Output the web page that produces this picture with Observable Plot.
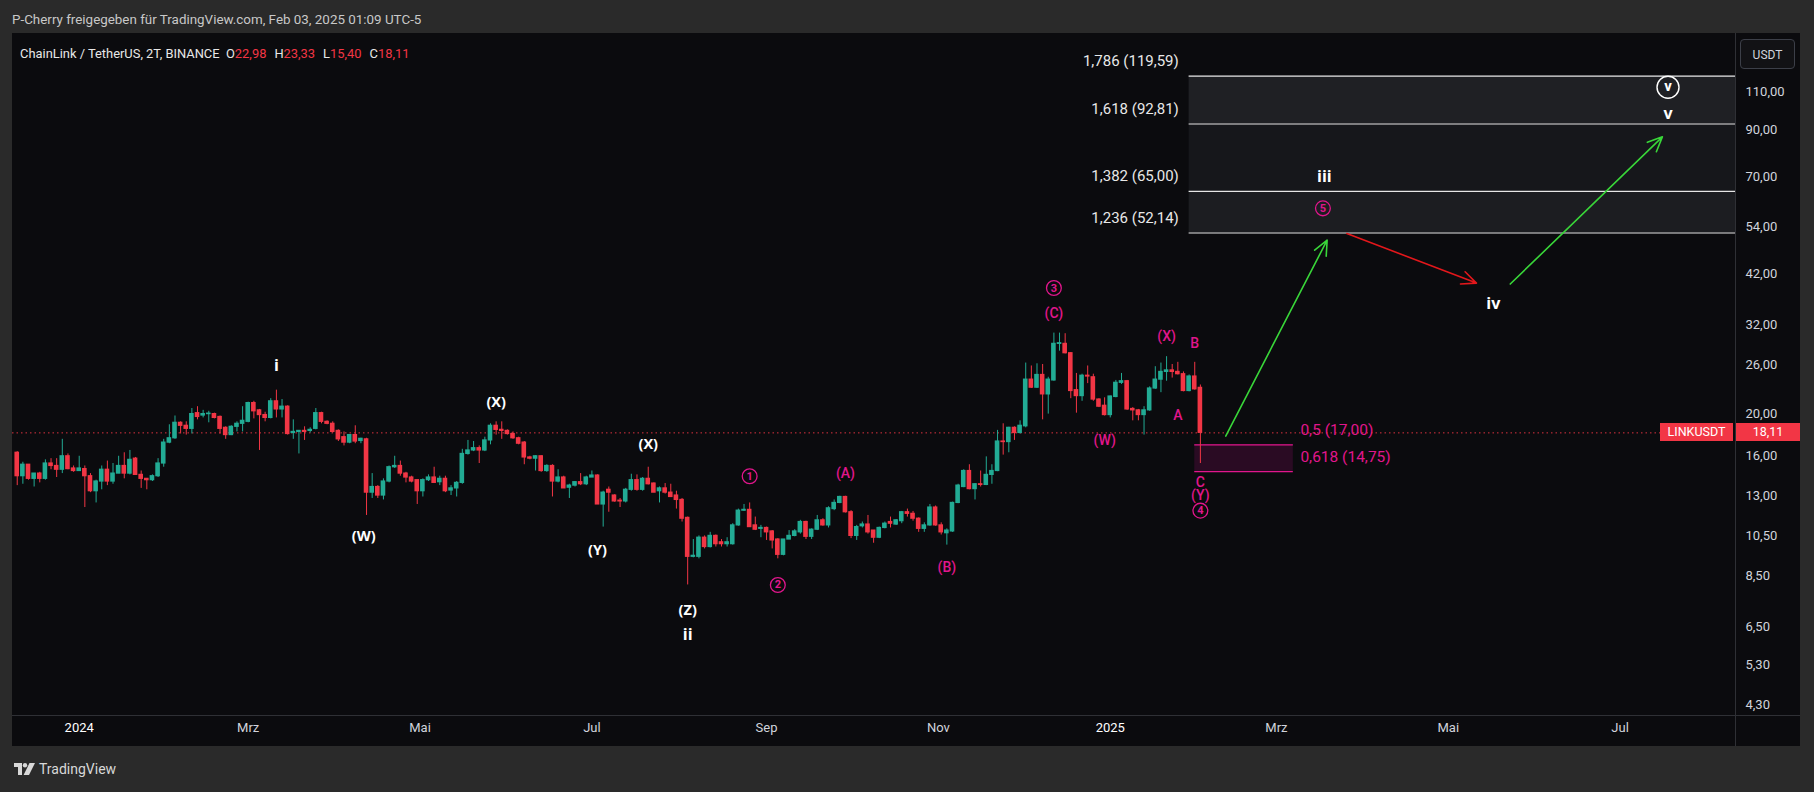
<!DOCTYPE html>
<html><head><meta charset="utf-8">
<script src="https://cdn.jsdelivr.net/npm/d3@7"></script>
<script src="https://cdn.jsdelivr.net/npm/@observablehq/plot@0.6"></script>
<style>
html,body{margin:0;padding:0;background:#2a2a2a;width:1814px;height:792px;overflow:hidden;font-family:Roboto,"Open Sans",sans-serif;}
#header{position:absolute;left:12px;top:11px;color:#c8c8c8;font-size:13.4px;line-height:18px;white-space:nowrap;}
#panel{position:absolute;left:12px;top:33px;width:1788px;height:713px;background:#0b0b0e;overflow:hidden;}
#legend{position:absolute;left:20px;top:45px;color:#e8e8e8;font-size:12.9px;line-height:17px;white-space:nowrap;}
#legend .v{color:#f23645;margin-right:8px;}
.sepV{position:absolute;left:1735px;top:33px;width:1px;height:713px;background:#2f3035;}
.sepH{position:absolute;left:12px;top:715px;width:1788px;height:1px;background:#2f3035;}
.tag{position:absolute;height:18px;line-height:18px;color:#fff;font-size:12.5px;text-align:center;background:#f23645;}
#usdt{position:absolute;left:1740px;top:39px;width:55px;height:30px;border:1px solid #3c3f48;border-radius:4px;background:#121215;color:#d1d4dc;font-size:12px;line-height:30px;text-align:center;box-sizing:border-box;}
#tv{position:absolute;left:14px;top:760px;color:#d8d8d8;font-size:14px;line-height:18px;display:flex;align-items:center;gap:3px;}
</style></head><body>
<div id="header">P-Cherry freigegeben für TradingView.com, Feb 03, 2025 01:09 UTC-5</div>
<div id="panel"></div>
<div id="legend">ChainLink / TetherUS, 2T, BINANCE&nbsp;&nbsp;O<span class="v">22,98</span>H<span class="v">23,33</span>L<span class="v">15,40</span>C<span class="v">18,11</span></div>
<div class="sepV"></div><div class="sepH"></div>
<div id="usdt">USDT</div>
<div id="tv"><svg width="22" height="14" viewBox="0 0 22 14"><path d="M0 1h8v12H4V5H0z" fill="#d8d8d8"/><circle cx="11" cy="3.2" r="2.2" fill="#d8d8d8"/><path d="M15.5 1H21L15 13H9.6z" fill="#d8d8d8"/></svg><span>TradingView</span></div>
<script>
// ---- candle data (2-day bars, LINKUSDT) ----
const candleStart = "2023-12-10";
const O = [
16.3,14.4,15.3,14.2,14.6,14.2,15.4,15.2,14.9,16.0,
15.0,14.8,14.95,14.4,13.3,14.0,14.9,14.0,14.6,15.2,
14.6,15.8,14.5,14.2,14.1,14.4,15.4,17.2,17.6,19.1,
18.8,18.5,20.1,19.85,20.0,20.0,19.7,18.6,17.9,18.7,
19.0,19.2,21.2,20.4,19.9,19.6,21.4,20.5,20.8,18.1,
18.2,18.3,18.3,18.5,20.1,19.2,19.0,18.3,17.7,17.2,
17.9,17.35,17.5,13.2,13.6,13.0,14.0,15.1,15.2,14.6,
14.3,14.1,13.3,14.1,14.3,13.95,14.2,13.35,13.5,13.9,
16.2,16.5,16.7,16.5,17.4,18.8,18.4,18.3,18.0,17.6,
17.2,15.9,15.8,16.0,14.8,15.2,14.0,14.3,13.55,13.7,
13.95,13.8,14.3,14.45,12.4,13.4,13.0,12.65,12.6,13.4,
14.1,13.4,14.2,13.85,13.3,13.5,13.2,13.0,12.7,11.55,
9.4,9.4,10.4,9.9,10.5,10.15,10.05,10.05,11.1,12.0,
12.05,11.1,10.9,10.95,10.75,10.3,9.5,10.3,10.5,10.7,
11.3,10.45,10.85,11.4,11.1,12.1,12.5,12.9,11.9,10.5,
11.05,11.15,10.8,10.4,10.95,11.3,11.15,11.35,11.9,11.8,
11.5,10.9,11.1,12.2,11.1,10.65,10.75,12.5,13.6,14.8,
13.45,13.8,13.75,14.5,14.8,17.3,17.25,18.6,18.1,18.75,
24.0,23.0,24.6,22.2,23.9,29.0,29.0,27.6,22.7,22.0,
24.5,24.3,21.6,20.9,19.9,21.9,23.6,23.8,20.55,20.4,
19.9,20.4,22.9,24.0,25.0,25.2,25.0,24.7,22.6,24.4,22.98];
const H = [
16.4,15.5,15.3,14.6,14.7,15.7,15.8,15.8,17.5,16.2,
15.2,16.0,15.2,14.6,14.1,15.2,15.6,15.4,16.0,16.3,
16.5,15.9,14.8,14.2,14.5,15.8,17.5,18.9,19.8,19.2,
19.2,20.6,20.8,20.4,20.3,20.1,19.8,18.7,18.8,19.2,
20.8,21.3,21.4,20.5,20.2,21.7,22.7,21.6,20.9,19.4,
18.3,18.7,18.6,20.6,20.2,19.3,19.2,18.4,18.2,17.9,
18.8,17.6,17.6,14.6,13.7,14.2,15.2,16.0,15.6,14.7,
14.4,14.1,14.2,14.5,15.1,14.4,14.4,13.7,14.0,16.6,
17.4,17.3,16.9,17.7,19.0,19.2,19.2,18.4,18.2,17.7,
17.3,16.0,16.05,16.05,15.3,15.3,14.9,14.4,13.8,14.0,
14.6,14.4,14.8,14.5,13.3,13.6,13.05,12.8,13.5,14.55,
14.5,14.3,15.1,13.9,13.6,13.85,13.8,13.3,12.8,11.6,
10.3,10.5,10.5,10.7,10.55,10.3,10.4,11.2,12.1,12.4,
12.5,11.6,11.1,11.0,10.8,10.35,10.3,10.8,10.85,11.4,
11.35,10.9,11.7,11.5,12.25,12.7,12.95,12.95,12.0,11.1,
11.3,11.7,10.8,11.0,11.3,11.6,11.45,11.95,12.1,11.95,
11.55,11.25,12.4,12.3,11.25,10.9,12.55,13.8,14.9,15.3,
13.85,14.8,15.95,15.3,18.35,19.0,18.65,18.7,19.3,26.2,
25.8,26.1,26.0,24.3,30.7,30.7,30.6,27.7,24.8,24.7,
25.8,24.7,21.7,21.8,22.0,23.9,24.8,23.9,20.7,20.5,
20.8,23.1,25.7,26.2,27.1,26.0,26.3,25.0,24.6,26.3,23.33];
const L = [
13.7,13.8,14.1,13.6,13.9,14.1,14.9,14.3,14.6,14.9,
14.7,14.8,12.2,13.2,12.5,13.4,13.7,13.8,14.6,14.2,
14.5,14.5,13.5,13.4,14.0,14.3,15.1,17.1,17.5,18.0,
17.9,18.0,19.4,19.6,19.1,19.5,18.0,17.5,17.85,18.2,
18.2,19.1,19.5,16.5,19.2,19.5,19.6,19.6,17.9,17.5,
16.2,17.4,18.1,18.4,19.0,18.9,18.1,17.3,16.9,17.1,
17.1,17.1,11.7,12.8,12.8,12.7,13.9,15.0,14.4,13.9,
13.9,12.4,12.9,14.0,13.9,13.7,13.2,13.0,12.9,13.8,
16.1,16.4,15.4,16.4,17.0,17.9,17.5,17.9,17.5,17.0,
15.3,15.7,14.8,14.7,14.7,12.9,13.9,13.5,12.8,13.6,
13.7,13.7,14.3,12.4,11.0,11.9,12.55,12.2,12.5,13.3,
13.3,13.3,13.75,13.2,12.5,13.1,12.9,12.1,11.3,8.1,
9.35,9.3,9.8,9.85,9.9,9.9,9.9,10.0,11.05,11.95,
11.0,10.8,10.4,10.25,9.8,9.3,9.45,10.3,10.45,10.6,
10.3,10.3,10.8,11.05,10.95,12.0,12.45,11.85,10.35,10.25,
10.95,10.6,10.1,10.35,10.9,10.95,11.1,11.2,11.6,11.35,
10.7,10.7,11.05,11.05,10.55,10.0,10.7,12.45,13.55,13.4,
12.7,13.6,13.7,13.8,14.75,16.1,16.3,17.4,18.0,18.6,
22.9,22.9,19.4,20.0,23.8,27.9,27.5,21.7,20.1,21.4,
23.5,21.4,20.7,19.8,19.6,21.8,23.4,20.4,19.3,19.3,
17.9,20.3,22.8,22.4,23.8,24.2,24.6,22.5,22.5,22.7,15.40];
const C = [
14.4,15.3,14.2,14.6,14.2,15.4,15.2,14.9,16.0,14.95,
14.8,15.0,14.4,13.3,14.0,14.9,14.0,14.6,15.2,14.6,
15.7,14.5,14.2,14.1,14.4,15.4,17.2,17.6,19.1,18.8,
18.5,20.0,19.7,20.0,20.05,19.6,18.5,17.9,18.7,19.0,
19.3,21.2,20.3,19.9,19.6,21.4,20.5,20.8,18.0,18.2,
18.3,18.2,18.4,20.1,19.2,19.0,18.2,17.5,17.2,17.9,
17.3,17.55,13.2,13.6,13.0,14.0,15.1,15.2,14.6,14.3,
14.0,13.3,14.1,14.3,13.9,14.2,13.3,13.5,13.9,16.2,
16.5,16.7,16.5,17.4,18.8,18.4,18.3,18.0,17.6,17.1,
15.9,15.8,16.0,14.8,15.2,14.0,14.3,13.5,13.7,13.95,
13.8,14.3,14.45,12.4,13.2,13.2,12.6,12.6,13.4,14.1,
13.4,14.2,13.8,13.2,13.5,13.2,12.9,12.7,11.5,9.4,
9.45,10.4,9.9,10.5,10.05,10.05,10.15,11.1,12.0,12.05,
11.0,10.85,10.95,10.7,10.25,9.5,10.3,10.5,10.75,11.3,
10.45,10.85,11.4,11.1,12.15,12.5,12.9,11.9,10.5,11.0,
11.15,10.7,10.4,10.95,11.2,11.2,11.4,11.9,11.8,11.5,
10.9,11.1,12.2,11.1,10.7,10.8,12.5,13.7,14.8,13.45,
13.8,13.75,14.5,14.8,17.3,17.25,18.6,18.1,18.8,24.0,
23.0,24.6,22.2,24.0,29.0,29.1,27.6,22.6,22.0,24.5,
24.4,21.6,20.8,19.9,21.95,23.6,23.8,20.5,20.4,19.9,
20.4,22.9,24.0,25.0,25.2,25.0,24.7,22.6,24.4,22.8,18.11];
const lastPrice = 18.11;

// ---- axes ----
const yTicks = [110,90,70,54,42,32,26,20,16,13,10.5,8.5,6.5,5.3,4.3];
const xTickDates = ["2024-01-01","2024-03-01","2024-05-01","2024-07-01","2024-09-01","2024-11-01","2025-01-01","2025-03-01","2025-05-01","2025-07-01"];
const xTickLabels = ["2024","Mrz","Mai","Jul","Sep","Nov","2025","Mrz","Mai","Jul"];

// ---- Fibonacci zones ----
const fibUpLevels = ["1,236","1,382","1,618","1,786"];
const fibUpPrices = [52.14,65.00,92.81,119.59];
const fibUpFills = ["#1c1d21","#16171b","#1f2024"];
const fibLowLevels = ["0,5","0,618"];
const fibLowPrices = [17.00,14.75];

// ---- wave labels ----
const whiteLabels = ["i","(W)","(X)","(Y)","(X)","(Z)","ii","iii","iv","v"];
const whiteDates = ["2024-03-11","2024-04-11","2024-05-28","2024-07-03","2024-07-21","2024-08-04","2024-08-04","2025-03-18","2025-05-17","2025-07-18"];
const whitePrices = [25.8,10.48,21.3,9.74,17.0,7.09,6.23,70.3,35.9,97.9];
const pinkLabels = ["(A)","(B)","(C)","(W)","(X)","B","A","C","(Y)"];
const pinkDates = ["2024-09-29","2024-11-04","2024-12-12","2024-12-30","2025-01-21","2025-01-31","2025-01-25","2025-02-02","2025-02-02"];
const pinkPrices = [14.6,8.89,34.0,17.35,30.15,29.1,19.9,13.96,13.0];
const circLabels = ["1","2","3","4","5"];
const circDates = ["2024-08-26","2024-09-05","2024-12-12","2025-02-02","2025-03-17T12:00"];
const circPrices = [14.4,8.1,38.97,12.0,59.4];
const circWhiteLabel = ["v"];
const circWhiteDate = ["2025-07-18"];
const circWhitePrice = [112.7];

// ---- projection arrows ----
const arrowStart = ["2025-02-11","2025-03-26","2025-05-23"];
const arrowStartPrice = [17.8,52.0,39.8];
const arrowEnd = ["2025-03-19","2025-05-11","2025-07-16"];
const arrowEndPrice = [50.2,40.0,86.7];
const arrowKind = ["up","down","up"];

// ---------------------------------------------------------
const DAY = 864e5;
const T = s => new Date(s.length === 10 ? s + "T00:00:00Z" : s + ":00Z");
const t0 = Date.UTC(2024,0,1);
const xDomain = [new Date(t0 - 23.68*DAY), new Date(t0 + 587.96*DAY)];
const GREEN = "#22ab94", RED = "#f23645", PINK = "#e1168c", WHITE = "#ffffff";
const cs = T(candleStart).getTime();
const candles = O.map((o,i)=>({date:new Date(cs + i*2*DAY), o, h:H[i], l:L[i], c:C[i]}));
const col = d => d.c >= d.o ? GREEN : RED;
const fmt = v => v.toFixed(2).replace(".", ",");

const fibUp = fibUpLevels.map((lv,i)=>({lv, p:fibUpPrices[i]}));
const fibZones = fibUpFills.map((f,i)=>({lo:fibUpPrices[i], hi:fibUpPrices[i+1], f}));
const fibUpStart = T("2025-01-29"), fibUpLabelX = T("2025-01-25T08:00");
const fibLow = fibLowLevels.map((lv,i)=>({lv, p:fibLowPrices[i]}));
const fibLowStart = T("2025-01-31"), fibLowEnd = T("2025-03-07"), fibLowLabelX = T("2025-03-09T12:00");

const whites = whiteLabels.map((t,i)=>({t, x:T(whiteDates[i]), y:whitePrices[i], roman: /^[iv]+$/.test(t)}));
const pinks = pinkLabels.map((t,i)=>({t, x:T(pinkDates[i]), y:pinkPrices[i]}));
const circs = circLabels.map((t,i)=>({t, x:T(circDates[i]), y:circPrices[i]}));
const circW = circWhiteLabel.map((t,i)=>({t, x:T(circWhiteDate[i]), y:circWhitePrice[i]}));
const arrows = arrowKind.map((k,i)=>({k, x1:T(arrowStart[i]), y1:arrowStartPrice[i], x2:T(arrowEnd[i]), y2:arrowEndPrice[i]}));
const xTicks = xTickDates.map((s,i)=>({x:T(s), t:xTickLabels[i], year:/^20/.test(xTickLabels[i])}));

const FONT = "Roboto, 'Open Sans', sans-serif";
const plot = Plot.plot({
  width: 1788, height: 713,
  marginLeft: 0, marginRight: 65, marginTop: 0, marginBottom: 31,
  style: {background: "transparent", color: "#d1d4dc", fontFamily: FONT, fontSize: "12.5px", overflow: "visible"},
  x: {type: "utc", domain: xDomain, axis: null},
  y: {type: "log", domain: [4.06, 149.8], axis: null},
  marks: [
    // upper fib zones
    Plot.rect(fibZones, {x1: fibUpStart, x2: xDomain[1], y1: "lo", y2: "hi", fill: "f"}),
    Plot.ruleY(fibUp, {y: "p", x1: fibUpStart, x2: xDomain[1], stroke: "#e6e6e6", strokeWidth: 1.2}),
    Plot.text(fibUp, {x: fibUpLabelX, y: "p", text: d => `${d.lv} (${fmt(d.p)})`, textAnchor: "end", dy: -15, fill: "#e8e8e8", fontSize: 15}),
    // lower fib zone
    Plot.rect([{lo: fibLowPrices[1], hi: fibLowPrices[0]}], {x1: fibLowStart, x2: fibLowEnd, y1: "lo", y2: "hi", fill: "#2a0b23"}),
    Plot.ruleY(fibLow, {y: "p", x1: fibLowStart, x2: fibLowEnd, stroke: PINK, strokeWidth: 1.2}),
    Plot.text(fibLow, {x: fibLowLabelX, y: "p", text: d => `${d.lv} (${fmt(d.p)})`, textAnchor: "start", dy: -15, fill: PINK, fontSize: 15.5}),
    // last price dotted line
    Plot.ruleY([lastPrice], {stroke: RED, strokeDasharray: "1.5,3", strokeWidth: 1, strokeOpacity: 0.9}),
    // candles
    Plot.ruleX(candles, {x: "date", y1: "l", y2: "h", stroke: col, strokeWidth: 1}),
    Plot.rect(candles, {x1: d => new Date(+d.date - 0.82*DAY), x2: d => new Date(+d.date + 0.82*DAY), y1: "o", y2: "c", fill: col, insetTop: -0.6, insetBottom: -0.6}),
    // arrows
    Plot.arrow(arrows, {x1: "x1", y1: "y1", x2: "x2", y2: "y2", stroke: d => d.k === "up" ? "#39d639" : "#e3171b", strokeWidth: 1.6, headLength: 15, headAngle: 48}),
    // wave labels
    Plot.text(whites, {x: "x", y: "y", text: "t", fill: WHITE, fontWeight: "bold", fontSize: d => d.roman ? 16 : 14.5, fontFamily: "'Open Sans', Roboto, sans-serif"}),
    Plot.text(pinks, {x: "x", y: "y", text: "t", fill: PINK, fontSize: 14, fontWeight: 500}),
    Plot.dot(circs, {x: "x", y: "y", r: 7.4, stroke: PINK, strokeWidth: 1.3, fill: "none"}),
    Plot.text(circs, {x: "x", y: "y", text: "t", fill: PINK, fontSize: 11, fontWeight: "bold"}),
    Plot.dot(circW, {x: "x", y: "y", r: 11, stroke: WHITE, strokeWidth: 1.4, fill: "none"}),
    Plot.text(circW, {x: "x", y: "y", text: "t", fill: WHITE, fontSize: 15, fontWeight: "bold", dy: -1}),
    // price axis labels
    Plot.text(yTicks, {y: d => d, text: d => fmt(d), frameAnchor: "right", dx: 10, textAnchor: "start", fill: "#d1d4dc", fontSize: 13}),
    // time axis labels
    Plot.text(xTicks, {x: "x", text: "t", frameAnchor: "bottom", dy: 16, fill: d => d.year ? "#ffffff" : "#d1d4dc", fontWeight: d => d.year ? "bold" : "normal", fontSize: 13})
  ]
});
document.getElementById("panel").appendChild(plot);

// price tags on the right axis
const yPx = plot.scale("y").apply(lastPrice) + 33;
const tag1 = document.createElement("div"); tag1.className = "tag";
tag1.style.cssText = `left:1736px;top:${yPx-9}px;width:64px;`; tag1.textContent = fmt(lastPrice);
const tag2 = document.createElement("div"); tag2.className = "tag";
tag2.style.cssText = `left:1660px;top:${yPx-9}px;width:73px;`; tag2.textContent = "LINKUSDT";
document.body.appendChild(tag1); document.body.appendChild(tag2);
</script>
</body></html>
